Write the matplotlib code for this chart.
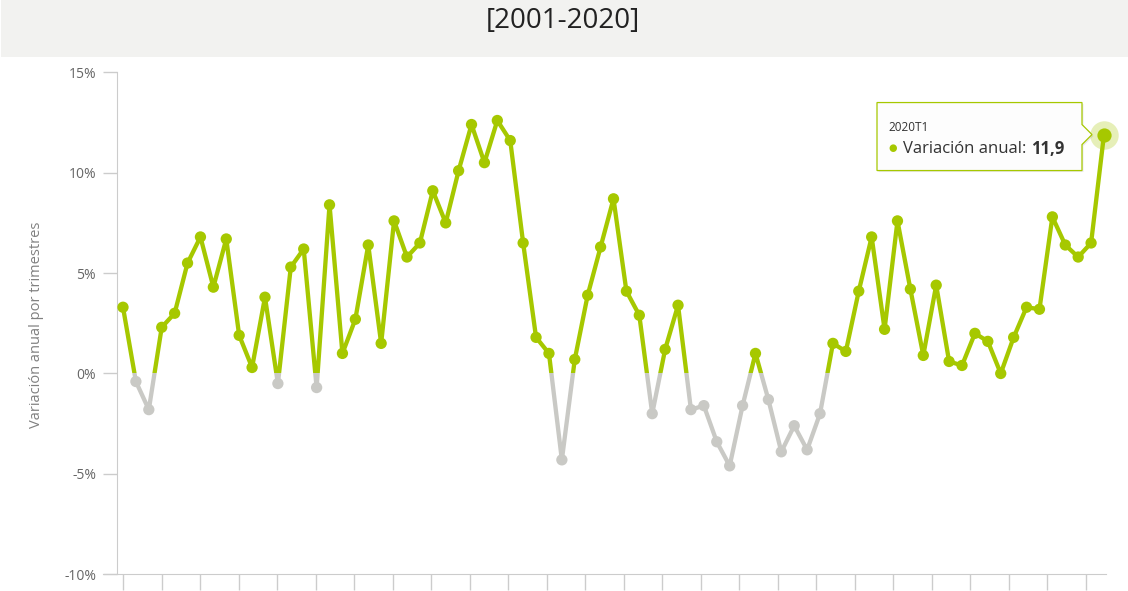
import numpy as np
import matplotlib
matplotlib.use("Agg")
import matplotlib.pyplot as plt
from matplotlib.patches import Rectangle, Polygon
from matplotlib.transforms import IdentityTransform

plt.rcParams['font.family'] = ['Open Sans', 'DejaVu Sans']

# quarterly labels 2001T1 .. 2020T1
quarters = [f"{y}T{q}" for y in range(2001, 2020) for q in range(1, 5)] + ["2020T1"]
values = [3.3, -0.4, -1.8, 2.3, 3.0, 5.5, 6.8, 4.3, 6.7, 1.9,
          0.3, 3.8, -0.5, 5.3, 6.2, -0.7, 8.4, 1.0, 2.7, 6.4,
          1.5, 7.6, 5.8, 6.5, 9.1, 7.5, 10.1, 12.4, 10.5, 12.6,
          11.6, 6.5, 1.8, 1.0, -4.3, 0.7, 3.9, 6.3, 8.7, 4.1,
          2.9, -2.0, 1.2, 3.4, -1.8, -1.6, -3.4, -4.6, -1.6, 1.0,
          -1.3, -3.9, -2.6, -3.8, -2.0, 1.5, 1.1, 4.1, 6.8, 2.2,
          7.6, 4.2, 0.9, 4.4, 0.6, 0.4, 2.0, 1.6, 0.0, 1.8,
          3.3, 3.2, 7.8, 6.4, 5.8, 6.5, 11.9]
yticks = [-10, -5, 0, 5, 10, 15]
ytick_labels = [f"{v}%" for v in yticks]
title = "[2001-2020]"
ylabel = "Variación anual por trimestres"

GREEN = '#a6c800'
GRAY = '#c9c9c5'
AXC = '#cccccc'

W, H = 1128, 591
fig = plt.figure(figsize=(W / 100, H / 100), dpi=100)

# header band
fig.patches.append(Rectangle((1 / W, 1 - 57 / H), 1, 57 / H, transform=fig.transFigure,
                             fc='#f2f2f0', ec='none', zorder=0))
fig.text(563 / W, 1 - 21 / H, title, ha='center', va='center', fontsize=20, color='#222222')

ax = fig.add_axes([103 / W, 1 - 574.3 / H, (1106 - 103) / W, (574.3 - 72.3) / H])
x = np.arange(len(values))
step = 12.908
ax.set_xlim(-(123 - 103) / step, len(values) - 1 + 2 / step)
ax.set_ylim(-10, 15)

# line green above zero, gray below
pos_line, = ax.plot(x, values, color=GREEN, lw=3.1, solid_joinstyle='round', zorder=2)
neg_line, = ax.plot(x, values, color=GRAY, lw=3.1, solid_joinstyle='round', zorder=2)
pos_line.set_clip_path(Rectangle((-5, 0), 100, 50, transform=ax.transData))
neg_line.set_clip_path(Rectangle((-5, -50), 100, 50, transform=ax.transData))

colors = [GREEN if v >= 0 else GRAY for v in values]
ax.scatter(x[:-1], values[:-1], s=66, c=colors[:-1], linewidths=0, zorder=3)
# hovered last point
ax.scatter(x[-1], values[-1], s=420, color=GREEN, alpha=0.28, linewidths=0, zorder=3, clip_on=False)
ax.scatter(x[-1], values[-1], s=105, color=GREEN, linewidths=0, zorder=4, clip_on=False)

for s in ['top', 'right']:
    ax.spines[s].set_visible(False)
ax.spines['left'].set_position(('data', -(123 - 117) / step))
ax.spines['left'].set_color(AXC)
ax.spines['bottom'].set_color(AXC)

ax.set_yticks(yticks)
ax.set_yticklabels(ytick_labels)
ax.tick_params(axis='y', length=10, width=1, color=AXC, labelcolor='#666666',
               labelsize=10, pad=5)
ax.set_xticks(np.arange(26) * 2.984)
ax.set_xticklabels([])
ax.tick_params(axis='x', length=11.5, width=1, color=AXC)

fig.text(37 / W, 1 - 325 / H, ylabel, rotation=90, ha='center', va='center',
         color='#808080', fontsize=10.5)

# tooltip
px, py = ax.transData.transform((x[-1], values[-1]))
left, right = px - 227, px - 22
top, bottom = py + 32, py - 36
verts = [(left, bottom), (right, bottom), (right, py - 10), (px - 12, py),
         (right, py + 10), (right, top), (left, top)]
shadow = Polygon([(a + 1.5, b - 1.5) for a, b in verts], closed=True,
                 transform=IdentityTransform(), fc='#000000', alpha=0.08, ec='none')
box = Polygon(verts, closed=True, transform=IdentityTransform(),
              fc='#fdfdfd', ec=GREEN, lw=0.9)
fig.patches.extend([shadow, box])
fig.text(left + 11, py + 7, quarters[-1], transform=IdentityTransform(),
         fontsize=8.5, color='#333333', va='center')
fig.text(left + 11, py - 14, "●", transform=IdentityTransform(),
         fontsize=7, color=GREEN, va='center')
t1 = fig.text(left + 26, py - 14, "Variación anual:", transform=IdentityTransform(),
              fontsize=12, color='#333333', va='center')
r = fig.canvas.get_renderer()
bb = t1.get_window_extent(renderer=r)
fig.text(bb.x1 + 5, py - 14, f"{values[-1]:.1f}".replace('.', ','), transform=IdentityTransform(),
         fontsize=12, color='#333333', va='center', fontweight='bold')

fig.savefig('out.png', dpi=100)
